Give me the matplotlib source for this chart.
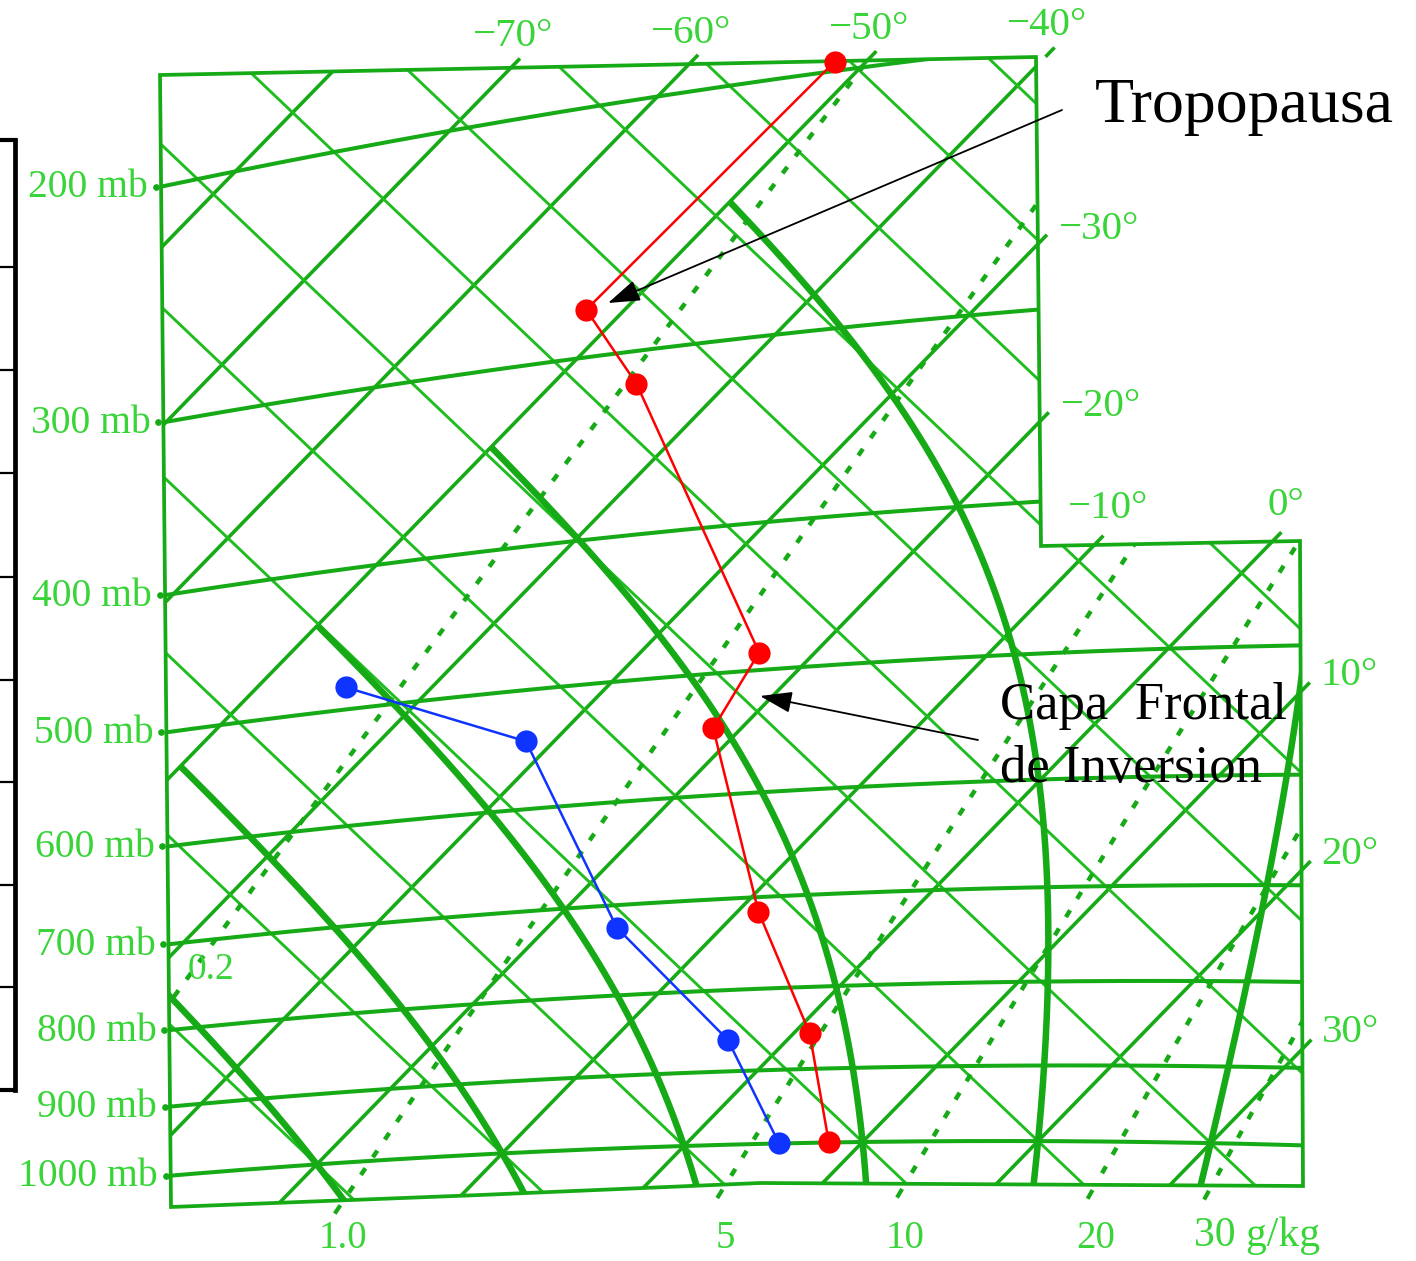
import numpy as np
import matplotlib
matplotlib.use("Agg")
import matplotlib.pyplot as plt
from matplotlib.transforms import Affine2D
from matplotlib.patches import Polygon

# ---------------- sounding (pressure in mb, temperature in °C) ----------------
temp_pressure = [1000, 855, 715, 543, 487, 316, 278, 197]
temperature = [8.1, 0.9, -8.8, -21.6, -23.2, -45.2, -52.2, -51.8]
dew_pressure = [1000, 860, 724, 541, 483]
dewpoint = [5.3, -3.4, -16.0, -31.6, -44.9]

# ---------------- line families of the tephigram ----------------
isobar_levels = [1000, 900, 800, 700, 600, 500, 400, 300, 200]
isobar_labels = ["1000 mb", "900 mb", "800 mb", "700 mb", "600 mb",
                 "500 mb", "400 mb", "300 mb", "200 mb"]
isotherm_values = list(range(-120, 61, 10))
dry_adiabat_values = list(range(-100, 221, 10))   # potential temperature, °C
wet_adiabat_values = [-20, -10, 0, 10, 20, 30]     # wet-bulb potential temperature, °C
mixing_ratio_values = [0.2, 1.0, 5, 10, 20, 30]    # g/kg
mixing_ratio_labels = ["0.2", "1.0", "5", "10", "20", "30 g/kg"]
top_temp_labels = [-70, -60, -50, -40]
upper_temp_labels = [-30, -20]
step_temp_labels = [-10, 0]
lower_temp_labels = [10, 20, 30]

# ---------------- thermodynamics ----------------
T0 = 273.15
KAPPA = 0.2857
K_ENT = 280.0
RD, CP, LV, EPS = 287.04, 1005.7, 2.501e6, 0.622


def theta_of(T, p):
    return (np.asarray(T, float) + T0) * (1000.0 / np.asarray(p, float)) ** KAPPA


def teph(T, th):
    T = np.asarray(T, float)
    b = K_ENT * np.log(np.asarray(th, float) / 300.0)
    return T + b, b - T


def sat_vp(tc):
    return 6.112 * np.exp(17.67 * tc / (tc + 243.5))


def dew_from_e(e):
    L = np.log(e / 6.112)
    return 243.5 * L / (17.67 - L)


def moist_dTdp(tk, p):
    e = sat_vp(tk - T0)
    rs = EPS * e / (p - e)
    return (RD * tk + LV * rs) / (p * (CP + LV * LV * rs * EPS / (RD * tk * tk)))


def moist_path(tw, p_end, n):
    ps = np.linspace(1000.0, p_end, n + 1)
    T = np.empty_like(ps)
    T[0] = tw + T0
    for i in range(n):
        h = ps[i + 1] - ps[i]
        p, t = ps[i], T[i]
        k1 = moist_dTdp(t, p)
        k2 = moist_dTdp(t + 0.5 * h * k1, p + 0.5 * h)
        k3 = moist_dTdp(t + 0.5 * h * k2, p + 0.5 * h)
        k4 = moist_dTdp(t + h * k3, p + h)
        T[i + 1] = t + h * (k1 + 2 * k2 + 2 * k3 + k4) / 6.0
    return ps, T - T0


# ---------------- figure ----------------
W, H = 1416, 1261
fig = plt.figure(figsize=(W / 100, H / 100), dpi=100)
ax = fig.add_axes([0, 0, 1, 1])
ax.set_xlim(0, W)
ax.set_ylim(H, 0)
ax.axis("off")

SERIF = "Liberation Serif"
LINE = "#17aa17"
LINE2 = "#20bd20"
TXT = "#38d438"

# tephigram coordinates -> page
XA, YA = teph(0.0, theta_of(0.0, 1000.0))
aff = Affine2D().translate(-XA, -YA).scale(8.9, -8.8).rotate_deg(-1.1).translate(684, 1146)
diag = aff + ax.transData


def to_px(X, Y):
    return aff.transform(np.column_stack([np.ravel(X), np.ravel(Y)]))


frame = np.array([(160, 75), (1036, 57), (1041, 546), (1300, 541),
                  (1303, 1186), (760, 1183), (480, 1195), (171, 1207)], float)
clip = Polygon(frame, closed=True, transform=ax.transData)


def draw(X, Y, **kw):
    ln, = ax.plot(X, Y, transform=diag, **kw)
    ln.set_clip_path(clip)
    return ln


def seg_cross(a1, a2, b1, b2):
    d1, d2 = a2 - a1, b2 - b1
    den = d1[0] * d2[1] - d1[1] * d2[0]
    if abs(den) < 1e-12:
        return None
    w = b1 - a1
    t = (w[0] * d2[1] - w[1] * d2[0]) / den
    u = (w[0] * d1[1] - w[1] * d1[0]) / den
    if 0 <= t <= 1 and 0 <= u <= 1:
        return a1 + t * d1
    return None


def extend(edge, n=15.0):
    u = (edge[-1] - edge[0]) / np.hypot(*(edge[-1] - edge[0]))
    e = edge.copy()
    e[0] = e[0] - n * u
    e[-1] = e[-1] + n * u
    return e


def hit(pts, edge):
    for i in range(len(pts) - 1):
        for j in range(len(edge) - 1):
            q = seg_cross(pts[i], pts[i + 1], edge[j], edge[j + 1])
            if q is not None:
                return q
    return None


top_edge = extend(frame[[0, 1]])
upper_edge = extend(frame[[1, 2]])
step_edge = extend(frame[[2, 3]])
lower_edge = extend(frame[[3, 4]])
bottom_edge = frame[[4, 5, 6, 7]]
left_edge = extend(frame[[7, 0]])

# isotherms
for T in isotherm_values:
    X, Y = teph(T, np.array([120.0, 900.0]))
    draw(X, Y, color=LINE, lw=2.6, solid_capstyle="butt", zorder=2)

# dry adiabats
for thc in dry_adiabat_values:
    X, Y = teph(np.array([-170.0, 100.0]), thc + T0)
    draw(X, Y, color=LINE2, lw=2.1, solid_capstyle="butt", zorder=2)

# isobars
for p in isobar_levels:
    Tl = np.linspace(-140, 70, 160)
    X, Y = teph(Tl, theta_of(Tl, p))
    draw(X, Y, color=LINE, lw=2.9, zorder=2)

# saturated (pseudo) adiabats, drawn down to -50 °C
for tw in wet_adiabat_values:
    pu, tu = moist_path(tw, 150.0, 400)
    pd, td = moist_path(tw, 1100.0, 40)
    pp = np.concatenate([pd[::-1], pu[1:]])
    tt = np.concatenate([td[::-1], tu[1:]])
    keep = tt >= -50.0
    idx = np.argmax(~keep) if (~keep).any() else len(tt)
    if idx < len(tt):
        f = (tt[idx - 1] + 50.0) / (tt[idx - 1] - tt[idx])
        p_cut = pp[idx - 1] + f * (pp[idx] - pp[idx - 1])
        pp = np.append(pp[:idx], p_cut)
        tt = np.append(tt[:idx], -50.0)
    X, Y = teph(tt, theta_of(tt, pp))
    draw(X, Y, color=LINE, lw=4.7, solid_capstyle="butt", zorder=3)

# saturation mixing-ratio lines
for w, lab in zip(mixing_ratio_values, mixing_ratio_labels):
    pm = np.linspace(1100.0, 200.0, 120)
    e = (w / 1000.0) * pm / (EPS + w / 1000.0)
    tdm = dew_from_e(e)
    X, Y = teph(tdm, theta_of(tdm, pm))
    draw(X, Y, color=LINE, lw=3.2, linestyle=(0, (1.8, 3.0)),
         dash_capstyle="butt", zorder=3)
    pts = to_px(X, Y)
    hb = hit(pts, bottom_edge)
    if hb is not None:
        d = pts[0] - pts[1]
        d = d / np.hypot(*d)
        a, b = hb + 6 * d, hb + 16 * d
        ax.plot([a[0], b[0]], [a[1], b[1]], color=LINE, lw=3.0, solid_capstyle="butt")
        if lab.endswith("g/kg"):
            ax.text(b[0] - 10, 1236, lab, ha="left", va="center", fontsize=30,
                    color=TXT, family=SERIF)
        else:
            ax.text(b[0] + 8, 1238, lab, ha="center", va="center", fontsize=28,
                    color=TXT, family=SERIF)
    else:
        hl = hit(pts, left_edge)
        if hl is not None:
            ax.text(hl[0] + 42, hl[1] - 34, lab, ha="center", va="center",
                    fontsize=27, color=TXT, family=SERIF)

# frame
ax.add_patch(Polygon(frame, closed=True, fill=False, edgecolor=LINE, lw=2.7,
                     joinstyle="miter", zorder=4))

# isobar labels on the left edge
for p, lab in zip(isobar_levels, isobar_labels):
    Tl = np.linspace(-140, 70, 400)
    pts = to_px(*teph(Tl, theta_of(Tl, p)))
    h = hit(pts, left_edge)
    ax.plot([h[0] - 5], [h[1]], "o", ms=3.8, color=LINE, zorder=4)
    ax.text(h[0] - 13, h[1] + 1, lab, ha="right", va="center", fontsize=28.5,
            color=TXT, family=SERIF)


# isotherm labels around the frame
def isotherm_label(T, edge, dx, dy, ha):
    pts = to_px(*teph(T, np.array([120.0, 900.0])))
    h = hit(pts, edge)
    d = pts[1] - pts[0]
    d = d / np.hypot(*d)
    e = h + 13 * d
    ax.plot([h[0], e[0]], [h[1], e[1]], color=LINE, lw=2.6, solid_capstyle="butt")
    ax.text(h[0] + dx, h[1] + dy, "\u2212%d\u00b0" % -T if T < 0 else "%d\u00b0" % T,
            ha=ha, va="center", fontsize=29.5, color=TXT, family=SERIF)


for T in top_temp_labels:
    isotherm_label(T, top_edge, 2, -31, "center")
for T in upper_temp_labels:
    isotherm_label(T, upper_edge, 21, -15, "left")
for T in step_temp_labels:
    isotherm_label(T, step_edge, 14, -36, "center")
for T in lower_temp_labels:
    isotherm_label(T, lower_edge, 20, -16, "left")

# sounding: temperature (red) and dew point (blue)
Xt, Yt = teph(temperature, theta_of(temperature, temp_pressure))
ax.plot(Xt, Yt, transform=diag, color="#ff0000", lw=1.8, marker="o", ms=16,
        markeredgewidth=0, zorder=6)
Xd, Yd = teph(dewpoint, theta_of(dewpoint, dew_pressure))
ax.plot(Xd, Yd, transform=diag, color="#1034ff", lw=1.8, marker="o", ms=16,
        markeredgewidth=0, zorder=6)

# annotations
arrow = dict(arrowstyle="-|>,head_length=0.9,head_width=0.3", color="black",
             lw=1.3, mutation_scale=22, shrinkA=0, shrinkB=0)
ax.annotate("", xy=(608, 303), xytext=(1062, 110), arrowprops=arrow, zorder=7)
ax.annotate("", xy=(760, 696), xytext=(978, 740), arrowprops=arrow, zorder=7)
ax.text(1095, 122, "Tropopausa", fontsize=46, family=SERIF, color="black",
        ha="left", va="baseline", zorder=7)
ax.text(1000, 719, "Capa  Frontal", fontsize=38, family=SERIF, color="black",
        ha="left", va="baseline", zorder=7)
ax.text(1000, 782, "de Inversion", fontsize=38, family=SERIF, color="black",
        ha="left", va="baseline", zorder=7)

# height scale bar at the left margin
bar_ticks = [140, 267, 370, 473, 577, 680, 782, 885, 987, 1090]
ax.plot([15, 15], [bar_ticks[0], bar_ticks[-1]], color="black", lw=3.4,
        solid_capstyle="projecting")
for i, y in enumerate(bar_ticks):
    ax.plot([0, 15], [y, y], color="black",
            lw=3.0 if i in (0, len(bar_ticks) - 1) else 1.6)

fig.savefig("out.png", dpi=100, facecolor="white")
